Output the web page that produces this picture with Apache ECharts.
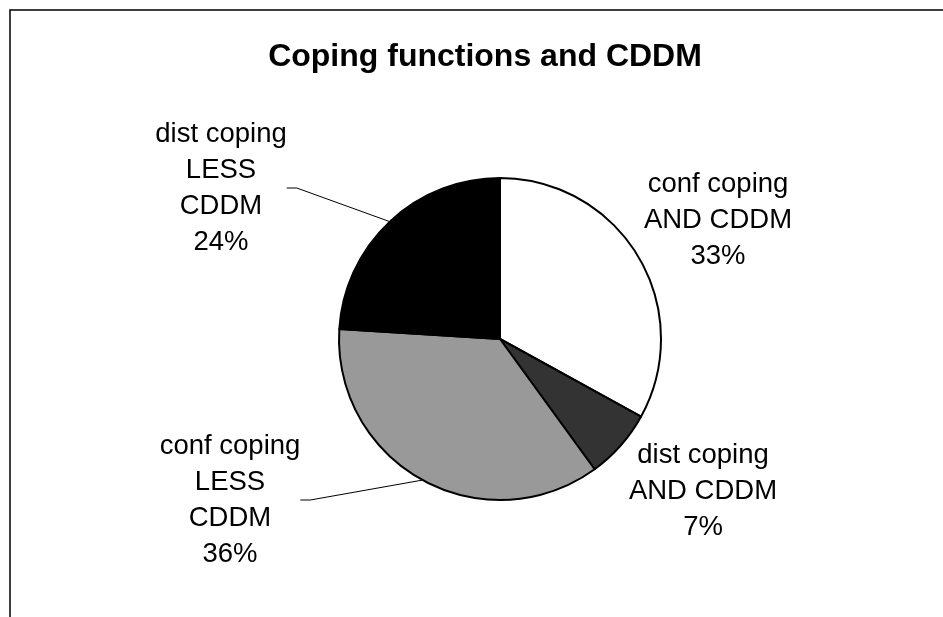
<!DOCTYPE html>
<html>
<head>
<meta charset="utf-8">
<script src="https://cdn.jsdelivr.net/npm/echarts@6/dist/echarts.min.js"></script>
<style>
  html, body { margin: 0; padding: 0; background: #fff; }
  #chart { width: 943px; height: 617px; }
</style>
</head>
<body>
<div id="chart"></div>
<script>
// slices, clockwise from 12 o'clock
const categories = ['conf coping\nAND CDDM', 'dist coping\nAND CDDM', 'conf coping\nLESS\nCDDM', 'dist coping\nLESS\nCDDM']
const shares = [33, 7, 36, 24]

const sliceColors = ['#ffffff', '#333333', '#999999', '#000000']
// label block centres and which labels get a leader line
const labelPos = [[718, 220], [703, 491], [230, 500], [221, 188]]
const hasLeader = [false, false, true, true]

const chart = echarts.init(document.getElementById('chart'))

const option = {
  animation: false,
  title: {
    text: 'Coping functions and CDDM',
    left: 480,
    top: 36,
    textAlign: 'center',
    textStyle: {
      fontFamily: 'Liberation Sans, Arial, sans-serif',
      fontSize: 32,
      fontWeight: 'bold',
      color: '#000'
    }
  },
  graphic: [
    {
      type: 'rect',
      shape: { x: 10, y: 10, width: 1000, height: 700 },
      style: { fill: 'none', stroke: '#000', lineWidth: 1.5 },
      silent: true
    }
  ],
  series: [
    {
      type: 'pie',
      center: [500, 339],
      radius: 161,
      startAngle: 90,
      clockwise: true,
      avoidLabelOverlap: false,
      percentPrecision: 0,
      itemStyle: { borderColor: '#000', borderWidth: 2 },
      label: {
        show: true,
        position: 'outside',
        formatter: '{b}\n{d}%',
        fontFamily: 'Liberation Sans, Arial, sans-serif',
        fontSize: 27.5,
        lineHeight: 36,
        color: '#000',
        align: 'center'
      },
      labelLine: {
        show: true,
        length: 10,
        length2: 10,
        lineStyle: { color: '#000', width: 1 }
      },
      labelLayout: function (params) {
        const i = params.dataIndex
        const p = labelPos[i]
        const out = { x: p[0], y: p[1], align: 'center', verticalAlign: 'middle' }
        if (hasLeader[i] && params.labelLinePoints) {
          const ex = p[0] + params.labelRect.width / 2
          out.labelLinePoints = [params.labelLinePoints[0], [ex + 10, p[1]], [ex, p[1]]]
        }
        return out
      },
      data: categories.map(function (name, i) {
        return {
          name: name,
          value: shares[i],
          itemStyle: { color: sliceColors[i] },
          labelLine: { show: hasLeader[i] }
        }
      })
    }
  ]
}

option && chart.setOption(option)
</script>
</body>
</html>
